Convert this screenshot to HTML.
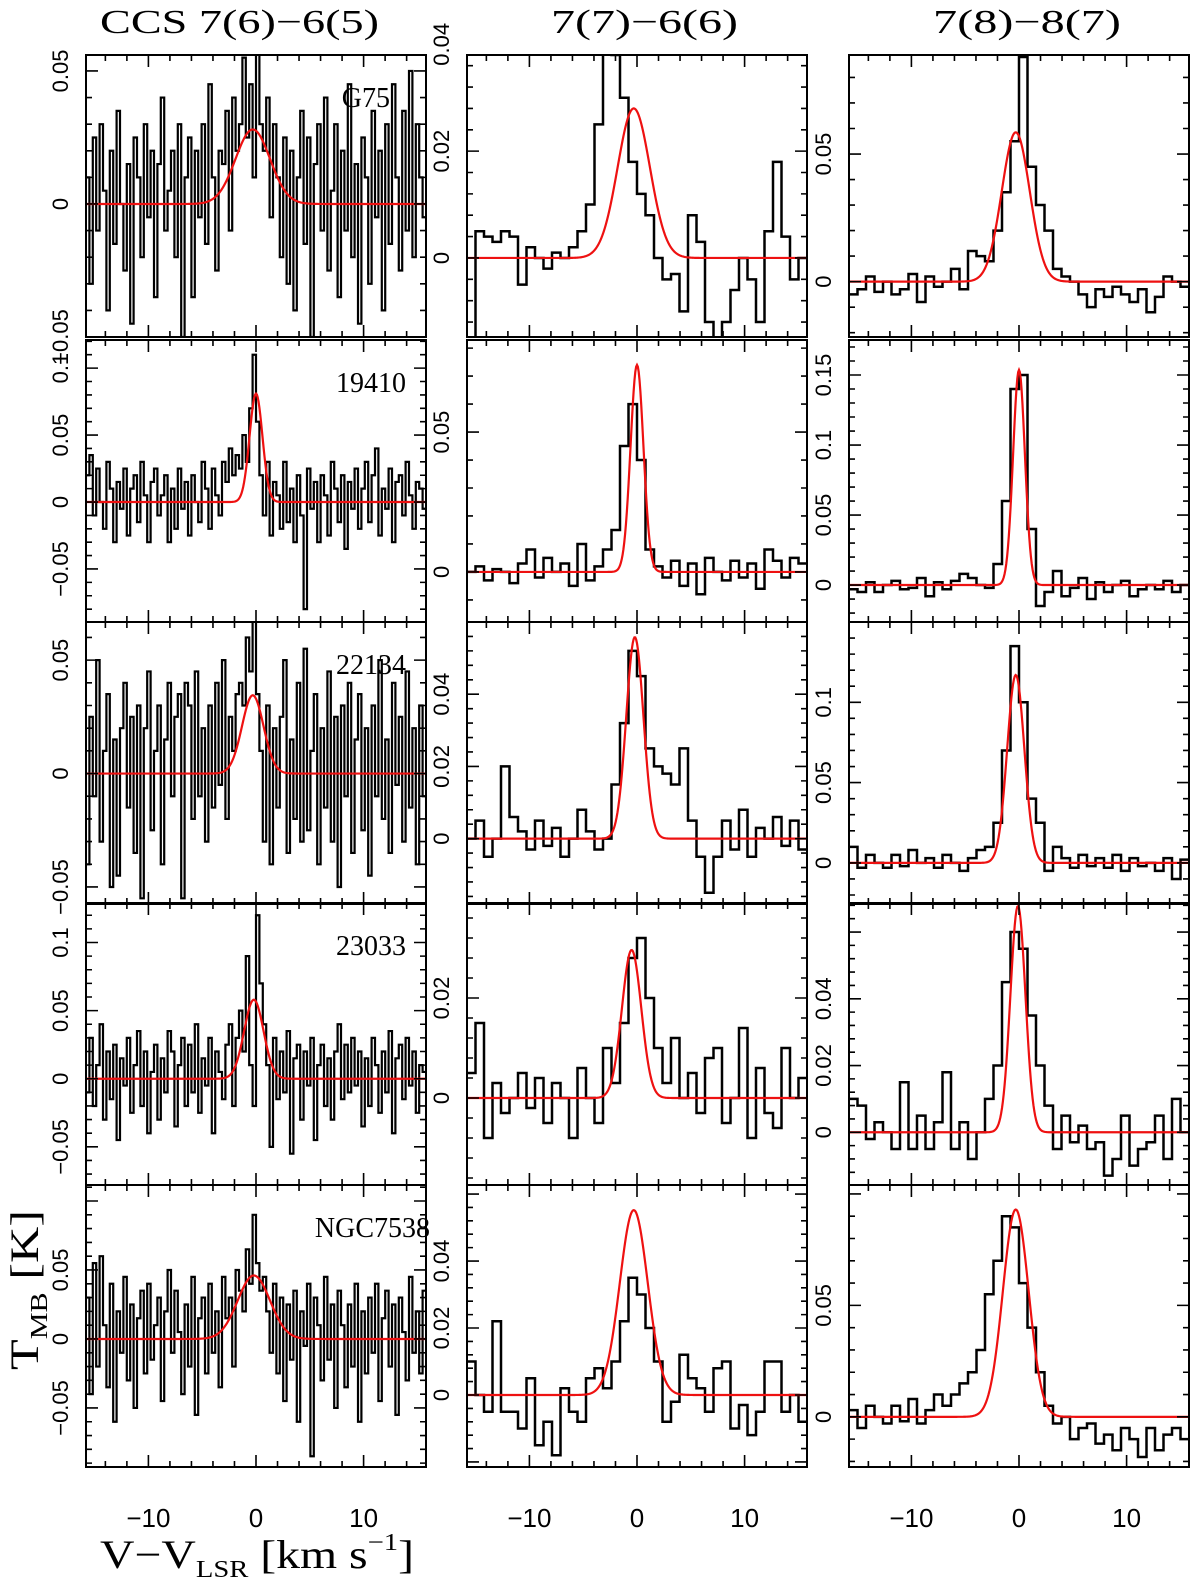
<!DOCTYPE html>
<html><head><meta charset="utf-8"><style>
html,body{margin:0;padding:0;background:#fff}
svg{display:block}
text{font-family:"Liberation Serif","DejaVu Serif",serif;fill:#000}
.tk{font-family:"Liberation Sans","DejaVu Sans",sans-serif}
</style></head><body>
<svg id="chart" width="1200" height="1582" viewBox="0 0 1200 1582" xmlns="http://www.w3.org/2000/svg"></svg>
<script>
// ---- data (values in mK) ----
const sources = ["G75","19410","22134","23033","NGC7538"];
const columnTitles = ["CCS 7(6)\u22126(5)","7(7)\u22126(6)","7(8)\u22128(7)"];
const xTicks = [-10,0,10];
const yRanges = [
 [[-50,56],[-14.8,38],[-21.7,88.8]],
 [[-89.6,121],[-17.9,82.9],[-26.4,175]],
 [[-57.5,66.8],[-18.1,60],[-25.6,150]],
 [[-78,129],[-17.4,39],[-15.8,68.7]],
 [[-92.8,111.6],[-21.5,62.7],[-22.5,104]]
];
const yTicks = [
 [[-50,0,50],[0,20,40],[0,50]],
 [[-50,0,50,100],[0,50],[0,50,100,150]],
 [[-50,0,50],[0,20,40],[0,50,100]],
 [[-50,0,50,100],[0,20],[0,20,40]],
 [[-50,0,50],[0,20,40],[0,50]]
];
const fitAmp = [[28,28,58.5],[81,74,153.6],[34.5,55.8,117],[58,29.6,67.8],[46,55.2,93]];
const fitCenter = [[-0.3,-0.3,-0.3],[0,0,0],[-0.3,-0.2,-0.3],[-0.2,-0.5,-0.1],[-0.2,-0.3,-0.3]];
const fitSigma = [[1.6,1.5,1.3],[0.6,0.6,0.55],[1.0,0.8,0.8],[0.9,0.9,0.7],[1.5,1.3,1.2]];
const spec_r1c1 = [10,-30,25,-10,30,5,-40,20,-15,35,0,-25,15,-45,25,10,-20,30,-5,20,
-35,15,40,-10,5,20,-20,30,-50,10,25,-35,20,-5,30,-15,45,10,-25,20,
15,35,-10,40,20,30,55,25,45,10,60,30,20,40,-5,30,10,-20,25,-30,
20,-40,10,35,-15,25,-50,15,30,-10,40,-25,5,30,-35,20,-10,45,-20,15,
-45,25,10,-30,35,-5,20,-40,30,-15,45,10,-25,35,-10,50,-20,30,10,-5];
const spec_r2c1 = [20,35,-10,25,0,-20,30,10,-30,15,-5,25,-25,10,20,-15,30,5,-30,15,
25,-10,5,20,-30,10,-20,25,-5,15,-25,20,0,-15,30,10,-20,25,5,-10,
30,15,40,20,35,25,50,30,70,110,60,20,-10,30,-25,15,5,-20,30,-15,
10,-30,20,-10,-80,25,-5,15,-30,20,5,-25,30,10,-15,20,-35,15,-5,25,
-20,10,30,-15,20,40,-25,10,-5,25,-30,15,20,-10,30,5,-20,15,10,-5];
const spec_r3c1 = [-40,25,-10,50,-30,10,35,-50,15,-45,20,40,-15,25,-35,30,-55,20,45,-25,
10,30,-40,15,40,-10,25,35,-55,40,30,-20,45,-10,20,-30,30,-15,40,-5,
50,-20,25,10,35,40,30,60,45,70,35,10,-30,30,-40,20,-15,25,50,-35,
15,-20,40,-30,55,-25,10,35,-40,20,-15,45,-30,25,-50,30,-10,40,-35,15,
35,-25,20,-45,30,-10,50,-20,15,-35,40,-5,25,-30,45,-15,20,-40,30,-10];
const spec_r4c1 = [-10,30,-20,10,40,-30,20,-15,25,-45,15,-5,30,-25,10,35,-20,20,-40,5,
25,-30,15,-10,35,20,-35,10,30,-20,25,-10,40,-25,15,-5,30,-40,20,5,
-15,25,40,-20,30,50,20,90,10,-20,120,70,40,10,-50,30,-15,20,-10,35,
-55,15,25,-30,20,-5,30,-45,10,25,-20,15,-30,20,40,-15,25,-10,30,-5,
20,-35,15,-20,30,10,-25,20,-10,35,-40,15,25,-15,30,-5,20,-25,10,5];
const spec_r5c1 = [30,-40,55,-20,60,10,-35,40,-60,20,-10,45,-30,25,-50,15,35,-25,40,-15,
10,30,-45,20,50,-10,35,5,-40,25,-20,45,-55,15,30,-25,40,-10,20,-35,
45,15,30,-20,50,35,20,65,40,90,55,35,45,20,-10,40,-25,30,-45,25,
-15,35,-60,20,-5,40,-85,30,10,-30,45,-15,25,-50,35,10,-35,25,-20,40,
-60,20,-25,30,-10,40,-45,15,35,-20,25,-55,30,5,-30,45,-10,20,-25,35];
const spec_r1c2 = [-15,5,4,3,5,4,-5,2,0,-2,1,0,2,5,10,25,40,38,30,18,12,8,0,-4,-3,-10,8,3,-12,-18,-12,-6,0,-4,-12,5,18,4,-4,0];
const spec_r2c2 = [0,2,-3,1,0,-4,3,8,-2,5,0,3,-5,10,-3,2,8,15,45,60,40,8,2,-2,4,-5,3,-8,5,0,-3,4,-2,3,-6,8,4,-2,5,3];
const spec_r3c2 = [0,5,-5,0,20,6,2,-3,5,-2,3,-5,0,8,2,-3,0,15,32,52,45,25,20,18,15,25,5,-5,-15,-5,5,-3,8,-5,3,0,6,-2,5,-3];
const spec_r4c2 = [5,15,-8,3,-3,0,5,-2,4,-5,3,0,-8,6,0,-5,10,3,15,28,32,20,10,3,12,0,5,-3,8,10,-5,0,14,-8,6,-3,-6,10,0,4];
const spec_r5c2 = [10,0,-5,22,-5,-5,-10,5,-15,-8,-18,2,-5,-8,5,8,2,10,22,35,30,20,10,-8,-2,12,5,2,-5,8,10,-10,-3,-12,-5,10,10,-5,0,-8];
const spec_r1c3 = [-5,-3,2,-4,0,-5,-3,3,-8,2,-2,0,5,-3,12,10,8,20,35,55,88,45,30,20,5,2,0,-5,-10,-3,-6,-2,-5,-8,-3,-12,-6,2,0,-2];
const spec_r2c3 = [-3,-5,2,-5,0,3,-3,-2,5,-8,2,-3,3,8,5,0,-2,15,60,140,150,40,-15,-5,10,-8,-2,5,-10,2,-5,0,3,-8,-3,0,-3,3,-5,0];
const spec_r3c3 = [10,-3,5,0,-3,5,-2,8,0,3,-3,5,0,-5,3,8,10,25,70,135,100,40,25,-5,10,3,-3,5,-2,3,-3,5,-5,3,-2,0,-5,3,-10,2];
const spec_r4c3 = [10,8,-2,3,0,-5,15,-5,5,-5,3,18,-5,3,-8,0,10,20,45,60,55,35,20,8,-5,5,-3,2,-5,-3,-13,-8,5,-10,-5,-3,5,-8,10,0];
const spec_r5c3 = [3,-5,5,0,-3,5,-2,8,-3,3,10,5,10,15,20,30,55,70,90,85,60,40,20,5,-3,0,-10,-5,-3,-12,-8,-15,-5,-10,-18,-5,-15,-8,-5,-10];
const spectra = [
 [spec_r1c1,spec_r1c2,spec_r1c3],
 [spec_r2c1,spec_r2c2,spec_r2c3],
 [spec_r3c1,spec_r3c2,spec_r3c3],
 [spec_r4c1,spec_r4c2,spec_r4c3],
 [spec_r5c1,spec_r5c2,spec_r5c3]
];
const xMin = -15.8, xMax = 15.8;

// ---- layout ----
const NS = "http://www.w3.org/2000/svg";
const svg = document.getElementById("chart");
const colLeft = [86,467,849], panelW = 340;
const rowTop = [55,340,622,903,1185], panelH = 282;
function mk(tag, attrs, parent){const e=document.createElementNS(NS,tag);for(const k in attrs)e.setAttribute(k,attrs[k]);(parent||svg).appendChild(e);return e;}
function fmt(v){const s=(Math.abs(v)/1000).toString();return (v<0?"\u2212":"")+s;}

const defs = mk("defs",{});
for(let r=0;r<5;r++){
 for(let c=0;c<3;c++){
  const L=colLeft[c], T=rowTop[r], W=panelW, H=panelH;
  const [y0,y1]=yRanges[r][c];
  const xs=v=>L+(v-xMin)/(xMax-xMin)*W;
  const ys=v=>T+H-(v-y0)/(y1-y0)*H;
  const g=mk("g",{});
  
  
  const cp=mk("clipPath",{id:"cp"+r+c},defs);
  mk("rect",{x:L,y:T,width:W,height:H},cp);
  const d=spectra[r][c], n=d.length, dv=(xMax-xMin)/n;
  let p="";
  for(let i=0;i<n;i++){
   const a=xs(xMin+i*dv), b=xs(xMin+(i+1)*dv), y=ys(d[i]);
   p+=(i===0?"M"+a+","+y:"L"+a+","+y)+"L"+b+","+y;
  }
  const sp=mk("path",{d:p,fill:"none",stroke:"#000","stroke-width":c===0?2.2:2.5,"clip-path":"url(#cp"+r+c+")"},g);
  
  
  let f="";
  for(let i=0;i<=400;i++){
   const v=xMin+i*(xMax-xMin)/400;
   const val=fitAmp[r][c]*Math.exp(-0.5*Math.pow((v-fitCenter[r][c])/fitSigma[r][c],2));
   f+=(i?"L":"M")+xs(v).toFixed(2)+","+ys(val).toFixed(2);
  }
  const fp=mk("path",{d:f,fill:"none",stroke:"#ee1111","stroke-width":2.2,"clip-path":"url(#cp"+r+c+")"},g);
  
  
  const fr=mk("rect",{x:L,y:T,width:W,height:H,fill:"none",stroke:"#000","stroke-width":2},g);
  
  
  let tk="";
  for(let v=-14;v<=14;v+=2){
   const x=xs(v), len=(v%10===0)?12:6;
   tk+="M"+x+","+(T+H)+"v"+(-len)+"M"+x+","+T+"v"+len;
  }
  const tks=yTicks[r][c], major=tks.length>1?tks[1]-tks[0]:50, minor=major/5;
  for(let v=Math.ceil(y0/minor)*minor;v<=y1;v+=minor){
   const y=ys(v), isMaj=Math.abs(v/major-Math.round(v/major))<1e-6, len=isMaj?12:6;
   tk+="M"+L+","+y+"h"+len+"M"+(L+W)+","+y+"h"+(-len);
  }
  mk("path",{d:tk,stroke:"#000","stroke-width":1.6,fill:"none"},g);
  tks.forEach(v=>{
   const y=ys(v);
   const t=mk("text",{class:"tk",x:0,y:0,transform:"translate("+(L-18)+","+y+") rotate(-90)","text-anchor":"middle","font-size":22},g);
   t.textContent=fmt(v);
   
   
  });
  if(r===4){
   xTicks.forEach(v=>{
    const t=mk("text",{class:"tk",x:xs(v),y:1527,"text-anchor":"middle","font-size":26},g);
    t.textContent=(v<0?"\u2212":"")+Math.abs(v);
    
    
   });
  }
  if(c===0){
   const t=mk("text",{x:L+W-20,y:T+52,"text-anchor":"end","font-size":28},g);
   if(r===0) t.setAttribute("x",390);
   if(r===4) t.setAttribute("x",L+W+4);
   t.textContent=sources[r];
   
   
  }
 }
}
const titleX=[[100,279],[551,187],[933,188]];
titleX.forEach((a,i)=>{
 const t=mk("text",{x:a[0],y:33,"font-size":34,textLength:a[1],lengthAdjust:"spacingAndGlyphs"});
 t.textContent=columnTitles[i];
 
 
});
const yt=mk("text",{x:0,y:0,transform:"translate(38,1370) rotate(-90)","font-size":40,textLength:160,lengthAdjust:"spacingAndGlyphs"});
yt.innerHTML='T<tspan font-size="24" dy="9">MB</tspan><tspan dy="-9"> [K]</tspan>';


const xt=mk("text",{x:100,y:1568,"font-size":40,textLength:314,lengthAdjust:"spacingAndGlyphs"});
xt.innerHTML='V\u2212V<tspan font-size="24" dy="9">LSR</tspan><tspan dy="-9"> [km  s</tspan><tspan font-size="24" dy="-18">\u22121</tspan><tspan dy="18">]</tspan>';


</script>
</body></html>
